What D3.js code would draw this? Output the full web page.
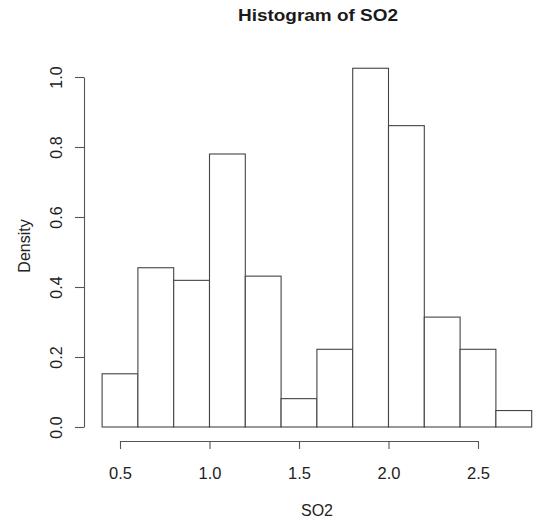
<!DOCTYPE html>
<html>
<head>
<meta charset="utf-8">
<script src="https://cdn.jsdelivr.net/npm/d3@7"></script>
<style>
  html, body { margin: 0; padding: 0; background: #fff; }
  svg { display: block; font-family: "Liberation Sans", Arial, sans-serif; }
</style>
</head>
<body>
<svg id="chart" width="533" height="525"></svg>
<script>
// Bin edges (SO2) and density values
const binStarts = [0.4, 0.6, 0.8, 1.0, 1.2, 1.4, 1.6, 1.8, 2.0, 2.2, 2.4, 2.6];
const binWidth = 0.2;
const density = [0.152, 0.455, 0.419, 0.780, 0.431, 0.081, 0.222, 1.025, 0.861, 0.314, 0.222, 0.047];
const xTicks = [0.5, 1.0, 1.5, 2.0, 2.5];
const yTicks = [0.0, 0.2, 0.4, 0.6, 0.8, 1.0];
const titleText = "Histogram of SO2";
const xLabel = "SO2";
const yLabel = "Density";

const svg = d3.select("#chart");

const x = d3.scaleLinear().domain([0.5, 2.5]).range([120, 478]);
const y = d3.scaleLinear().domain([0, 1]).range([427, 77]);

const lineColor = "#444";

// Bars
svg.append("g")
  .selectAll("rect")
  .data(binStarts)
  .join("rect")
  .attr("x", d => x(d))
  .attr("y", (d, i) => y(density[i]))
  .attr("width", d => x(d + binWidth) - x(d))
  .attr("height", (d, i) => y(0) - y(density[i]))
  .attr("fill", "#fff")
  .attr("stroke", lineColor)
  .attr("stroke-width", 1.1);

// X axis
const xAxis = svg.append("g")
  .attr("transform", "translate(0,441)")
  .call(d3.axisBottom(x).tickValues(xTicks).tickFormat(d3.format(".1f")).tickSize(8).tickSizeOuter(0));
xAxis.select(".domain").attr("stroke", "#555").attr("stroke-width", 1.1);
xAxis.selectAll(".tick line").attr("stroke", "#555").attr("stroke-width", 1.1);
xAxis.selectAll(".tick text")
  .attr("y", 38).attr("dy", 0)
  .attr("font-size", 16.5)
  .attr("fill", "#222")
  .attr("font-family", "Liberation Sans, Arial, sans-serif");

// Y axis
const yAxis = svg.append("g")
  .attr("transform", "translate(84,0)")
  .call(d3.axisLeft(y).tickValues(yTicks).tickFormat(d3.format(".1f")).tickSize(9).tickSizeOuter(0));
yAxis.select(".domain").attr("stroke", "#555").attr("stroke-width", 1.1);
yAxis.selectAll(".tick line").attr("stroke", "#555").attr("stroke-width", 1.1);
yAxis.selectAll(".tick text")
  .attr("transform", "rotate(-90)")
  .attr("x", 0).attr("y", -22).attr("dy", 0)
  .attr("text-anchor", "middle")
  .attr("font-size", 16)
  .attr("fill", "#222")
  .attr("font-family", "Liberation Sans, Arial, sans-serif");

// Title
svg.append("text")
  .attr("x", 318).attr("y", 21)
  .attr("text-anchor", "middle")
  .attr("font-size", 17)
  .attr("font-weight", "bold")
  .attr("textLength", 160)
  .attr("lengthAdjust", "spacingAndGlyphs")
  .attr("fill", "#1a1a1a")
  .text(titleText);

// X label
svg.append("text")
  .attr("x", 317).attr("y", 516)
  .attr("text-anchor", "middle")
  .attr("font-size", 16)
  .attr("fill", "#222")
  .text(xLabel);

// Y label
svg.append("text")
  .attr("transform", "translate(30,246) rotate(-90)")
  .attr("text-anchor", "middle")
  .attr("font-size", 16)
  .attr("fill", "#222")
  .text(yLabel);
</script>
</body>
</html>
